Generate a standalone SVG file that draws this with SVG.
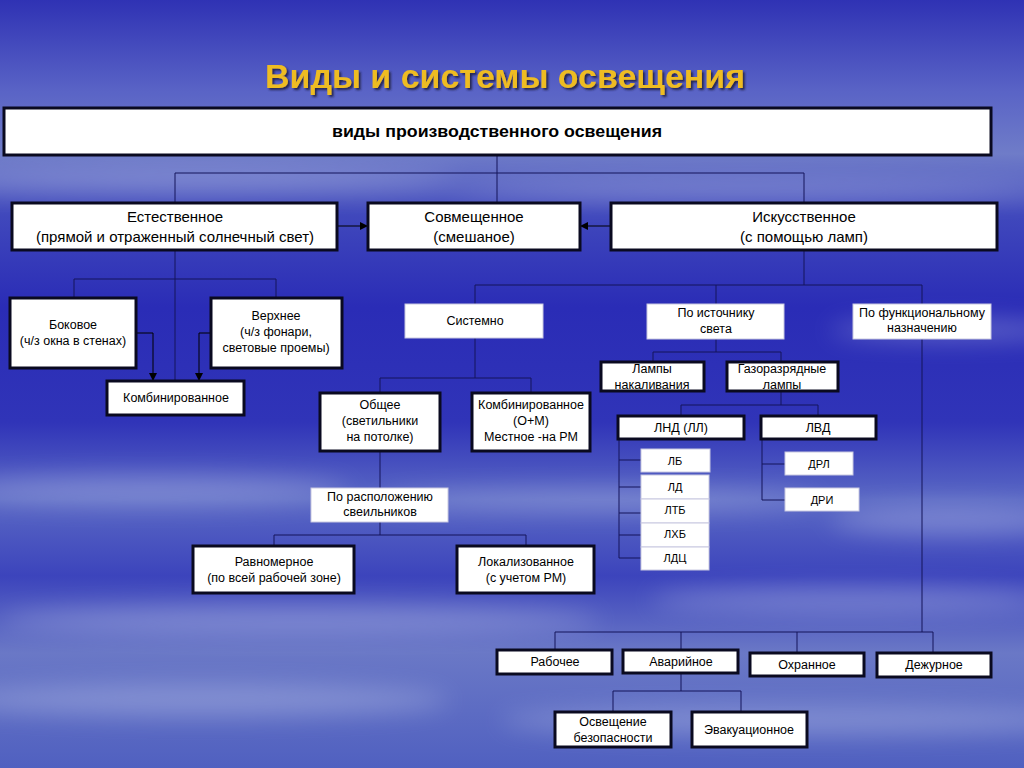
<svg xmlns="http://www.w3.org/2000/svg" width="1024" height="768" viewBox="0 0 1024 768">
<defs>
<linearGradient id="bg" x1="0" y1="0" x2="0" y2="1">
<stop offset="0" stop-color="#2f32b4"/>
<stop offset="0.12" stop-color="#5a64c6"/>
<stop offset="0.2" stop-color="#6f7cc8"/>
<stop offset="0.28" stop-color="#4048bc"/>
<stop offset="0.4" stop-color="#2a2cb6"/>
<stop offset="0.55" stop-color="#3034b8"/>
<stop offset="0.65" stop-color="#5a68c4"/>
<stop offset="0.75" stop-color="#3c44bc"/>
<stop offset="0.85" stop-color="#6a78c6"/>
<stop offset="1" stop-color="#5060c0"/>
</linearGradient>
<filter id="blur" x="-50%" y="-50%" width="200%" height="200%"><feGaussianBlur stdDeviation="12"/></filter>
<filter id="shadow" x="-10%" y="-20%" width="120%" height="150%"><feDropShadow dx="2" dy="2" stdDeviation="1" flood-color="#1a1a40" flood-opacity="0.9"/></filter>
<marker id="arr" viewBox="0 0 10 10" refX="10" refY="5" markerWidth="8" markerHeight="8" markerUnits="userSpaceOnUse" orient="auto"><path d="M0,0 L10,5 L0,10 z" fill="#000"/></marker>
<style>
.b{fill:#fff;stroke:#0a0a20;stroke-width:3}
.p{fill:#fff;stroke:#c8c8e0;stroke-width:1}
.t{font-family:"Liberation Sans",Arial,sans-serif;fill:#000;text-anchor:middle}
.l{fill:none;stroke:#14145a;stroke-width:1}
.a{fill:none;stroke:#000;stroke-width:1}
</style>
</defs>
<rect width="1024" height="768" fill="url(#bg)"/>
<g filter="url(#blur)" fill="#c8d0ee" opacity="0.35">
<ellipse cx="200" cy="180" rx="260" ry="12"/>
<ellipse cx="750" cy="190" rx="300" ry="10"/>
<ellipse cx="950" cy="330" rx="120" ry="10"/>
<ellipse cx="150" cy="490" rx="200" ry="14"/>
<ellipse cx="600" cy="500" rx="220" ry="10"/>
<ellipse cx="950" cy="520" rx="120" ry="14"/>
<ellipse cx="300" cy="620" rx="300" ry="14"/>
<ellipse cx="850" cy="600" rx="200" ry="12"/>
<ellipse cx="200" cy="700" rx="250" ry="16"/>
<ellipse cx="800" cy="720" rx="300" ry="14"/>
</g>
<text x="505" y="88" font-family="Liberation Sans,Arial,sans-serif" font-weight="bold" font-size="34" fill="#eebc22" text-anchor="middle" filter="url(#shadow)" textLength="480" lengthAdjust="spacingAndGlyphs">Виды и системы освещения</text>

<g id="connectors">
<path class="l" d="M497,155 V203 M175,173 H804 M175,173 V203 M804,173 V203"/>
<path class="a" d="M337,226 H368" marker-end="url(#arr)"/>
<path class="a" d="M611,226 H580" marker-end="url(#arr)"/>
<path class="l" d="M175,250 V381 M74,279 H276 M74,279 V298 M276,279 V298"/>
<path class="a" d="M136,333 H153 V381" marker-end="url(#arr)"/>
<path class="a" d="M211,333 H199 V381" marker-end="url(#arr)"/>
<path class="l" d="M804,250 V285 M475,285 H922 M475,285 V304 M716,285 V304 M922,285 V632"/>
<path class="l" d="M555,632 H933 M555,632 V650 M681,632 V650 M797,632 V653 M933,632 V653"/>
<path class="l" d="M681,673 V691 M613,691 H741 M613,691 V712 M741,691 V712"/>
<path class="l" d="M475,338 V378 M380,378 H531 M380,378 V393 M531,378 V393"/>
<path class="l" d="M380,451 V535 M274,535 H526 M274,535 V546 M526,535 V546"/>
<path class="l" d="M716,339 V352 M653,352 H781 M653,352 V362 M781,352 V362"/>
<path class="l" d="M781,391 V405 M681,405 H818 M681,405 V416 M818,405 V416"/>
<path class="l" d="M619,439 V558 M619,460 H641 M619,487 H641 M619,513 H641 M619,535 H641 M619,558 H641"/>
<path class="l" d="M762,439 V500 M762,464 H785 M762,500 H785"/>
</g>

<g id="n-top"><rect class="b" x="4" y="108" width="987" height="47"/><text class="t" x="497" y="137" font-size="17" font-weight="bold" textLength="330" lengthAdjust="spacingAndGlyphs">виды производственного освещения</text></g>

<g id="n-natural"><rect class="b" x="12" y="203" width="325" height="47"/><text class="t" x="175" y="222" font-size="15">Естественное</text><text class="t" x="175" y="242" font-size="15">(прямой и отраженный солнечный свет)</text></g>
<g id="n-combined"><rect class="b" x="368" y="203" width="212" height="47"/><text class="t" x="474" y="222" font-size="15">Совмещенное</text><text class="t" x="474" y="242" font-size="15">(смешаное)</text></g>
<g id="n-artificial"><rect class="b" x="611" y="203" width="386" height="47"/><text class="t" x="804" y="222" font-size="15">Искусственное</text><text class="t" x="804" y="242" font-size="15">(с помощью ламп)</text></g>

<g id="n-side"><rect class="b" x="10" y="298" width="126" height="70"/><text class="t" x="73" y="329" font-size="12.5">Боковое</text><text class="t" x="73" y="345" font-size="12.5">(ч/з окна в стенах)</text></g>
<g id="n-upper"><rect class="b" x="211" y="298" width="131" height="70"/><text class="t" x="276" y="320" font-size="12.5">Верхнее</text><text class="t" x="276" y="336" font-size="12.5">(ч/з фонари,</text><text class="t" x="276" y="352" font-size="12.5">световые проемы)</text></g>
<g id="n-comb-nat"><rect class="b" x="107" y="381" width="137" height="34"/><text class="t" x="176" y="402" font-size="12.5">Комбинированное</text></g>

<g id="n-system"><rect class="p" x="405" y="304" width="138" height="34"/><text class="t" x="475" y="325" font-size="12.5">Системно</text></g>
<g id="n-general"><rect class="b" x="320" y="393" width="120" height="58"/><text class="t" x="380" y="409" font-size="12.5">Общее</text><text class="t" x="380" y="425" font-size="12.5">(светильники</text><text class="t" x="380" y="441" font-size="12.5">на потолке)</text></g>
<g id="n-comb-om"><rect class="b" x="472" y="393" width="118" height="58"/><text class="t" x="531" y="409" font-size="12.5">Комбинированное</text><text class="t" x="531" y="425" font-size="12.5">(О+М)</text><text class="t" x="531" y="441" font-size="12.5">Местное -на РМ</text></g>
<g id="n-placement"><rect class="p" x="311" y="488" width="137" height="34"/><text class="t" x="380" y="501" font-size="12.5">По расположению</text><text class="t" x="380" y="516" font-size="12.5">свеильников</text></g>
<g id="n-uniform"><rect class="b" x="193" y="546" width="161" height="47"/><text class="t" x="274" y="566" font-size="12.5">Равномерное</text><text class="t" x="274" y="582" font-size="12.5">(по всей рабочей зоне)</text></g>
<g id="n-local"><rect class="b" x="457" y="546" width="137" height="47"/><text class="t" x="526" y="566" font-size="12.5">Локализованное</text><text class="t" x="526" y="582" font-size="12.5">(с учетом РМ)</text></g>

<g id="n-source"><rect class="p" x="647" y="304" width="137" height="35"/><text class="t" x="716" y="317" font-size="12.5">По источнику</text><text class="t" x="716" y="333" font-size="12.5">света</text></g>
<g id="n-incand"><rect class="b" x="601" y="362" width="103" height="29"/><text class="t" x="652" y="373" font-size="12.5">Лампы</text><text class="t" x="652" y="389" font-size="12.5">накаливания</text></g>
<g id="n-gas"><rect class="b" x="727" y="362" width="111" height="29"/><text class="t" x="782" y="373" font-size="12.5">Газоразрядные</text><text class="t" x="782" y="389" font-size="12.5">лампы</text></g>
<g id="n-lnd"><rect class="b" x="618" y="416" width="126" height="23"/><text class="t" x="681" y="432" font-size="12.5">ЛНД (ЛЛ)</text></g>
<g id="n-lvd"><rect class="b" x="761" y="416" width="115" height="23"/><text class="t" x="818" y="432" font-size="12.5">ЛВД</text></g>
<g id="n-lb"><rect class="p" x="641" y="449" width="69" height="23"/><text class="t" x="675" y="465" font-size="11">ЛБ</text></g>
<g id="n-ld"><rect class="p" x="641" y="475" width="68" height="24"/><text class="t" x="675" y="491" font-size="11">ЛД</text></g>
<g id="n-ltb"><rect class="p" x="641" y="499" width="68" height="24"/><text class="t" x="675" y="514" font-size="11">ЛТБ</text></g>
<g id="n-lhb"><rect class="p" x="641" y="523" width="68" height="24"/><text class="t" x="675" y="538" font-size="11">ЛХБ</text></g>
<g id="n-ldc"><rect class="p" x="641" y="547" width="68" height="23"/><text class="t" x="675" y="562" font-size="11">ЛДЦ</text></g>
<g id="n-drl"><rect class="p" x="785" y="452" width="68" height="23"/><text class="t" x="819" y="468" font-size="11">ДРЛ</text></g>
<g id="n-dri"><rect class="p" x="785" y="488" width="74" height="23"/><text class="t" x="822" y="504" font-size="11">ДРИ</text></g>

<g id="n-func"><rect class="p" x="853" y="304" width="138" height="35"/><text class="t" x="922" y="317" font-size="12.5">По функциональному</text><text class="t" x="922" y="332" font-size="12.5">назначению</text></g>
<g id="n-work"><rect class="b" x="497" y="650" width="115" height="24"/><text class="t" x="555" y="666" font-size="12.5">Рабочее</text></g>
<g id="n-emerg"><rect class="b" x="623" y="650" width="115" height="23"/><text class="t" x="681" y="666" font-size="12.5">Аварийное</text></g>
<g id="n-guard"><rect class="b" x="750" y="653" width="114" height="23"/><text class="t" x="807" y="669" font-size="12.5">Охранное</text></g>
<g id="n-duty"><rect class="b" x="877" y="653" width="114" height="24"/><text class="t" x="934" y="669" font-size="12.5">Дежурное</text></g>
<g id="n-safety"><rect class="b" x="555" y="712" width="116" height="35"/><text class="t" x="613" y="726" font-size="12.5">Освещение</text><text class="t" x="613" y="742" font-size="12.5">безопасности</text></g>
<g id="n-evac"><rect class="b" x="692" y="712" width="115" height="35"/><text class="t" x="749" y="734" font-size="12.5">Эвакуационное</text></g>
</svg>
